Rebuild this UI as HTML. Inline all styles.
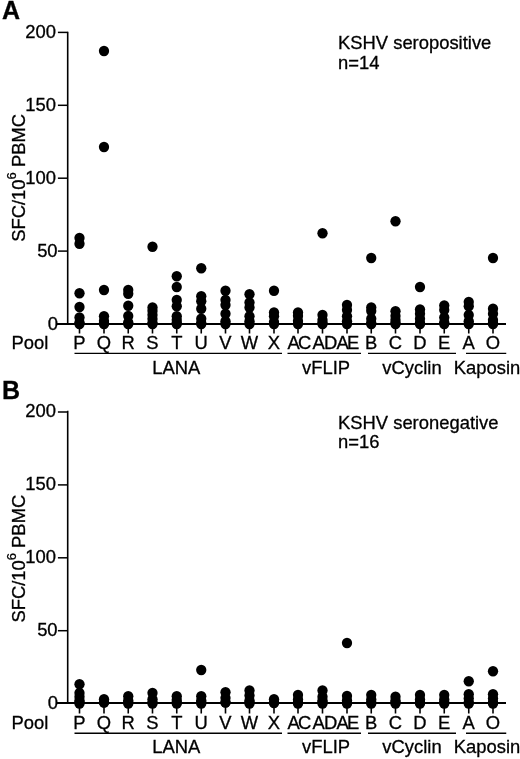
<!DOCTYPE html>
<html><head><meta charset="utf-8"><title>Figure</title>
<style>
html,body{margin:0;padding:0;background:#fff;}
svg{display:block;will-change:transform;}
text{font-family:"Liberation Sans",sans-serif;fill:#000;stroke:#000;stroke-width:0.3px;}
</style></head>
<body>
<svg width="520" height="759" viewBox="0 0 520 759">
<rect width="520" height="759" fill="#fff"/>
<text x="2.1" y="19" font-size="25" font-weight="bold">A</text>
<line x1="67.7" y1="31.65" x2="67.7" y2="324.0" stroke="#000" stroke-width="1.6"/>
<line x1="57" y1="324.0" x2="506" y2="324.0" stroke="#000" stroke-width="1.8"/>
<line x1="57.9" y1="32.4" x2="67.7" y2="32.4" stroke="#000" stroke-width="1.5"/>
<text x="56.0" y="38.1" font-size="18.4" text-anchor="end">200</text>
<line x1="57.9" y1="105.3" x2="67.7" y2="105.3" stroke="#000" stroke-width="1.5"/>
<text x="56.0" y="111" font-size="18.4" text-anchor="end">150</text>
<line x1="57.9" y1="178.2" x2="67.7" y2="178.2" stroke="#000" stroke-width="1.5"/>
<text x="56.0" y="183.9" font-size="18.4" text-anchor="end">100</text>
<line x1="57.9" y1="251.1" x2="67.7" y2="251.1" stroke="#000" stroke-width="1.5"/>
<text x="57.6" y="256.8" font-size="18.4" text-anchor="end">50</text>
<text x="58.0" y="329.7" font-size="18.4" text-anchor="end">0</text>
<text transform="translate(24.9,241.8) rotate(-90)" font-size="18.4">SFC/10<tspan dy="-9.2" font-size="13">6</tspan><tspan dy="9.2"> PBMC</tspan></text>
<text x="338" y="48.8" font-size="18.4">KSHV seropositive</text>
<text x="338" y="68.6" font-size="18.4">n=14</text>
<text x="11.5" y="349.2" font-size="18.4">Pool</text>
<line x1="79.5" y1="324.0" x2="79.5" y2="333.5" stroke="#000" stroke-width="1.6"/>
<text x="79.5" y="349.2" font-size="18.4" text-anchor="middle">P</text>
<circle cx="79.5" cy="324.0" r="5.15"/>
<circle cx="79.5" cy="238" r="5.15"/>
<circle cx="79.5" cy="243.75" r="5.15"/>
<circle cx="79.5" cy="293.25" r="5.15"/>
<circle cx="79.5" cy="307" r="5.15"/>
<circle cx="79.5" cy="317.5" r="5.15"/>
<circle cx="79.5" cy="322.5" r="5.15"/>
<line x1="104" y1="324.0" x2="104" y2="333.5" stroke="#000" stroke-width="1.6"/>
<text x="104" y="349.2" font-size="18.4" text-anchor="middle">Q</text>
<circle cx="104" cy="324.0" r="5.15"/>
<circle cx="104" cy="51" r="5.15"/>
<circle cx="104" cy="147" r="5.15"/>
<circle cx="104" cy="290" r="5.15"/>
<circle cx="104" cy="316.25" r="5.15"/>
<circle cx="104" cy="321" r="5.15"/>
<circle cx="104" cy="323" r="5.15"/>
<line x1="128.25" y1="324.0" x2="128.25" y2="333.5" stroke="#000" stroke-width="1.6"/>
<text x="128.25" y="349.2" font-size="18.4" text-anchor="middle">R</text>
<circle cx="128.25" cy="324.0" r="5.15"/>
<circle cx="128.25" cy="290" r="5.15"/>
<circle cx="128.25" cy="293.75" r="5.15"/>
<circle cx="128.25" cy="305.75" r="5.15"/>
<circle cx="128.25" cy="316" r="5.15"/>
<circle cx="128.25" cy="322.5" r="5.15"/>
<line x1="152.5" y1="324.0" x2="152.5" y2="333.5" stroke="#000" stroke-width="1.6"/>
<text x="152.5" y="349.2" font-size="18.4" text-anchor="middle">S</text>
<circle cx="152.5" cy="324.0" r="5.15"/>
<circle cx="152.5" cy="246.75" r="5.15"/>
<circle cx="152.5" cy="307.5" r="5.15"/>
<circle cx="152.5" cy="311" r="5.15"/>
<circle cx="152.5" cy="315" r="5.15"/>
<circle cx="152.5" cy="319" r="5.15"/>
<circle cx="152.5" cy="323" r="5.15"/>
<line x1="176.75" y1="324.0" x2="176.75" y2="333.5" stroke="#000" stroke-width="1.6"/>
<text x="176.75" y="349.2" font-size="18.4" text-anchor="middle">T</text>
<circle cx="176.75" cy="324.0" r="5.15"/>
<circle cx="176.75" cy="276.25" r="5.15"/>
<circle cx="176.75" cy="287" r="5.15"/>
<circle cx="176.75" cy="300" r="5.15"/>
<circle cx="176.75" cy="306.25" r="5.15"/>
<circle cx="176.75" cy="316.25" r="5.15"/>
<circle cx="176.75" cy="320" r="5.15"/>
<circle cx="176.75" cy="323" r="5.15"/>
<line x1="201.25" y1="324.0" x2="201.25" y2="333.5" stroke="#000" stroke-width="1.6"/>
<text x="201.25" y="349.2" font-size="18.4" text-anchor="middle">U</text>
<circle cx="201.25" cy="324.0" r="5.15"/>
<circle cx="201.25" cy="268.25" r="5.15"/>
<circle cx="201.25" cy="296.25" r="5.15"/>
<circle cx="201.25" cy="301.25" r="5.15"/>
<circle cx="201.25" cy="308.75" r="5.15"/>
<circle cx="201.25" cy="318.75" r="5.15"/>
<circle cx="201.25" cy="323" r="5.15"/>
<line x1="225.5" y1="324.0" x2="225.5" y2="333.5" stroke="#000" stroke-width="1.6"/>
<text x="225.5" y="349.2" font-size="18.4" text-anchor="middle">V</text>
<circle cx="225.5" cy="324.0" r="5.15"/>
<circle cx="225.5" cy="290.75" r="5.15"/>
<circle cx="225.5" cy="300" r="5.15"/>
<circle cx="225.5" cy="305" r="5.15"/>
<circle cx="225.5" cy="313.75" r="5.15"/>
<circle cx="225.5" cy="321.25" r="5.15"/>
<line x1="249.5" y1="324.0" x2="249.5" y2="333.5" stroke="#000" stroke-width="1.6"/>
<text x="249.5" y="349.2" font-size="18.4" text-anchor="middle">W</text>
<circle cx="249.5" cy="324.0" r="5.15"/>
<circle cx="249.5" cy="294.25" r="5.15"/>
<circle cx="249.5" cy="302.5" r="5.15"/>
<circle cx="249.5" cy="307.5" r="5.15"/>
<circle cx="249.5" cy="316.25" r="5.15"/>
<circle cx="249.5" cy="321.25" r="5.15"/>
<line x1="274" y1="324.0" x2="274" y2="333.5" stroke="#000" stroke-width="1.6"/>
<text x="274" y="349.2" font-size="18.4" text-anchor="middle">X</text>
<circle cx="274" cy="324.0" r="5.15"/>
<circle cx="274" cy="290.75" r="5.15"/>
<circle cx="274" cy="312.5" r="5.15"/>
<circle cx="274" cy="316.25" r="5.15"/>
<circle cx="274" cy="322" r="5.15"/>
<line x1="298" y1="324.0" x2="298" y2="333.5" stroke="#000" stroke-width="1.6"/>
<text x="287.5 298.1" y="349.2" font-size="18.4">AC</text>
<circle cx="298" cy="324.0" r="5.15"/>
<circle cx="298" cy="312.5" r="5.15"/>
<circle cx="298" cy="316" r="5.15"/>
<circle cx="298" cy="321" r="5.15"/>
<line x1="322.5" y1="324.0" x2="322.5" y2="333.5" stroke="#000" stroke-width="1.6"/>
<text x="312.5 324.0" y="349.2" font-size="18.4">AD</text>
<circle cx="322.5" cy="324.0" r="5.15"/>
<circle cx="322.5" cy="233.25" r="5.15"/>
<circle cx="322.5" cy="315" r="5.15"/>
<circle cx="322.5" cy="320" r="5.15"/>
<circle cx="322.5" cy="323" r="5.15"/>
<line x1="347" y1="324.0" x2="347" y2="333.5" stroke="#000" stroke-width="1.6"/>
<text x="336.5 347.0" y="349.2" font-size="18.4">AE</text>
<circle cx="347" cy="324.0" r="5.15"/>
<circle cx="347" cy="305" r="5.15"/>
<circle cx="347" cy="310" r="5.15"/>
<circle cx="347" cy="316.25" r="5.15"/>
<circle cx="347" cy="321.25" r="5.15"/>
<line x1="371.25" y1="324.0" x2="371.25" y2="333.5" stroke="#000" stroke-width="1.6"/>
<text x="371.25" y="349.2" font-size="18.4" text-anchor="middle">B</text>
<circle cx="371.25" cy="324.0" r="5.15"/>
<circle cx="371.25" cy="258" r="5.15"/>
<circle cx="371.25" cy="307.5" r="5.15"/>
<circle cx="371.25" cy="311" r="5.15"/>
<circle cx="371.25" cy="318.75" r="5.15"/>
<circle cx="371.25" cy="323" r="5.15"/>
<line x1="395.5" y1="324.0" x2="395.5" y2="333.5" stroke="#000" stroke-width="1.6"/>
<text x="395.5" y="349.2" font-size="18.4" text-anchor="middle">C</text>
<circle cx="395.5" cy="324.0" r="5.15"/>
<circle cx="395.5" cy="221.25" r="5.15"/>
<circle cx="395.5" cy="311.25" r="5.15"/>
<circle cx="395.5" cy="316" r="5.15"/>
<circle cx="395.5" cy="320" r="5.15"/>
<circle cx="395.5" cy="323" r="5.15"/>
<line x1="420" y1="324.0" x2="420" y2="333.5" stroke="#000" stroke-width="1.6"/>
<text x="420" y="349.2" font-size="18.4" text-anchor="middle">D</text>
<circle cx="420" cy="324.0" r="5.15"/>
<circle cx="420" cy="287" r="5.15"/>
<circle cx="420" cy="309.5" r="5.15"/>
<circle cx="420" cy="313.75" r="5.15"/>
<circle cx="420" cy="318.75" r="5.15"/>
<circle cx="420" cy="323" r="5.15"/>
<line x1="444.25" y1="324.0" x2="444.25" y2="333.5" stroke="#000" stroke-width="1.6"/>
<text x="444.25" y="349.2" font-size="18.4" text-anchor="middle">E</text>
<circle cx="444.25" cy="324.0" r="5.15"/>
<circle cx="444.25" cy="305.5" r="5.15"/>
<circle cx="444.25" cy="310" r="5.15"/>
<circle cx="444.25" cy="317.5" r="5.15"/>
<circle cx="444.25" cy="322.5" r="5.15"/>
<line x1="468.75" y1="324.0" x2="468.75" y2="333.5" stroke="#000" stroke-width="1.6"/>
<text x="468.75" y="349.2" font-size="18.4" text-anchor="middle">A</text>
<circle cx="468.75" cy="324.0" r="5.15"/>
<circle cx="468.75" cy="302" r="5.15"/>
<circle cx="468.75" cy="306.25" r="5.15"/>
<circle cx="468.75" cy="315" r="5.15"/>
<circle cx="468.75" cy="321.25" r="5.15"/>
<line x1="493" y1="324.0" x2="493" y2="333.5" stroke="#000" stroke-width="1.6"/>
<text x="493" y="349.2" font-size="18.4" text-anchor="middle">O</text>
<circle cx="493" cy="324.0" r="5.15"/>
<circle cx="493" cy="258" r="5.15"/>
<circle cx="493" cy="308.75" r="5.15"/>
<circle cx="493" cy="313.75" r="5.15"/>
<circle cx="493" cy="320" r="5.15"/>
<circle cx="493" cy="323" r="5.15"/>
<line x1="74.5" y1="353.4" x2="282" y2="353.4" stroke="#000" stroke-width="1.35"/>
<text x="176.3" y="373.6" font-size="18.4" text-anchor="middle">LANA</text>
<line x1="287.5" y1="353.4" x2="361" y2="353.4" stroke="#000" stroke-width="1.35"/>
<text x="326" y="373.6" font-size="18.4" text-anchor="middle">vFLIP</text>
<line x1="368" y1="353.4" x2="456" y2="353.4" stroke="#000" stroke-width="1.35"/>
<text x="412" y="373.6" font-size="18.4" text-anchor="middle">vCyclin</text>
<line x1="466" y1="353.4" x2="506.25" y2="353.4" stroke="#000" stroke-width="1.35"/>
<text x="487" y="373.6" font-size="18.4" text-anchor="middle">Kaposin</text>
<text x="2.1" y="398.8" font-size="25" font-weight="bold">B</text>
<line x1="67.7" y1="410.65" x2="67.7" y2="703.0" stroke="#000" stroke-width="1.6"/>
<line x1="57" y1="703.0" x2="506" y2="703.0" stroke="#000" stroke-width="1.8"/>
<line x1="57.9" y1="412.0" x2="67.7" y2="412.0" stroke="#000" stroke-width="1.5"/>
<text x="56.0" y="417.1" font-size="18.4" text-anchor="end">200</text>
<line x1="57.9" y1="484.9" x2="67.7" y2="484.9" stroke="#000" stroke-width="1.5"/>
<text x="56.0" y="490" font-size="18.4" text-anchor="end">150</text>
<line x1="57.9" y1="557.8" x2="67.7" y2="557.8" stroke="#000" stroke-width="1.5"/>
<text x="56.0" y="562.9" font-size="18.4" text-anchor="end">100</text>
<line x1="57.9" y1="630.7" x2="67.7" y2="630.7" stroke="#000" stroke-width="1.5"/>
<text x="57.6" y="635.8" font-size="18.4" text-anchor="end">50</text>
<text x="58.0" y="708.7" font-size="18.4" text-anchor="end">0</text>
<text transform="translate(24.9,622.6) rotate(-90)" font-size="18.4">SFC/10<tspan dy="-9.2" font-size="13">6</tspan><tspan dy="9.2"> PBMC</tspan></text>
<text x="338" y="428.6" font-size="18.4">KSHV seronegative</text>
<text x="338" y="448.4" font-size="18.4">n=16</text>
<text x="11.5" y="729.0" font-size="18.4">Pool</text>
<line x1="79.5" y1="703.0" x2="79.5" y2="713.5" stroke="#000" stroke-width="1.6"/>
<text x="79.5" y="729.0" font-size="18.4" text-anchor="middle">P</text>
<circle cx="79.5" cy="702.3" r="5.15"/>
<circle cx="79.5" cy="684.25" r="5.15"/>
<circle cx="79.5" cy="693.0" r="5.15"/>
<circle cx="79.5" cy="696.75" r="5.15"/>
<circle cx="79.5" cy="700.5" r="5.15"/>
<circle cx="79.5" cy="703.5" r="5.15"/>
<line x1="104" y1="703.0" x2="104" y2="713.5" stroke="#000" stroke-width="1.6"/>
<text x="104" y="729.0" font-size="18.4" text-anchor="middle">Q</text>
<circle cx="104" cy="702.3" r="5.15"/>
<circle cx="104" cy="699.25" r="5.15"/>
<circle cx="104" cy="702.5" r="5.15"/>
<line x1="128.25" y1="703.0" x2="128.25" y2="713.5" stroke="#000" stroke-width="1.6"/>
<text x="128.25" y="729.0" font-size="18.4" text-anchor="middle">R</text>
<circle cx="128.25" cy="702.3" r="5.15"/>
<circle cx="128.25" cy="696.25" r="5.15"/>
<circle cx="128.25" cy="700.5" r="5.15"/>
<circle cx="128.25" cy="703.5" r="5.15"/>
<line x1="152.5" y1="703.0" x2="152.5" y2="713.5" stroke="#000" stroke-width="1.6"/>
<text x="152.5" y="729.0" font-size="18.4" text-anchor="middle">S</text>
<circle cx="152.5" cy="702.3" r="5.15"/>
<circle cx="152.5" cy="693.0" r="5.15"/>
<circle cx="152.5" cy="699.25" r="5.15"/>
<circle cx="152.5" cy="703.5" r="5.15"/>
<line x1="176.75" y1="703.0" x2="176.75" y2="713.5" stroke="#000" stroke-width="1.6"/>
<text x="176.75" y="729.0" font-size="18.4" text-anchor="middle">T</text>
<circle cx="176.75" cy="702.3" r="5.15"/>
<circle cx="176.75" cy="696.25" r="5.15"/>
<circle cx="176.75" cy="700.0" r="5.15"/>
<circle cx="176.75" cy="703.5" r="5.15"/>
<line x1="201.25" y1="703.0" x2="201.25" y2="713.5" stroke="#000" stroke-width="1.6"/>
<text x="201.25" y="729.0" font-size="18.4" text-anchor="middle">U</text>
<circle cx="201.25" cy="702.3" r="5.15"/>
<circle cx="201.25" cy="670.0" r="5.15"/>
<circle cx="201.25" cy="696.25" r="5.15"/>
<circle cx="201.25" cy="700.5" r="5.15"/>
<circle cx="201.25" cy="703.5" r="5.15"/>
<line x1="225.5" y1="703.0" x2="225.5" y2="713.5" stroke="#000" stroke-width="1.6"/>
<text x="225.5" y="729.0" font-size="18.4" text-anchor="middle">V</text>
<circle cx="225.5" cy="702.3" r="5.15"/>
<circle cx="225.5" cy="692.25" r="5.15"/>
<circle cx="225.5" cy="698.0" r="5.15"/>
<circle cx="225.5" cy="702.5" r="5.15"/>
<line x1="249.5" y1="703.0" x2="249.5" y2="713.5" stroke="#000" stroke-width="1.6"/>
<text x="249.5" y="729.0" font-size="18.4" text-anchor="middle">W</text>
<circle cx="249.5" cy="702.3" r="5.15"/>
<circle cx="249.5" cy="690.5" r="5.15"/>
<circle cx="249.5" cy="695.5" r="5.15"/>
<circle cx="249.5" cy="700.5" r="5.15"/>
<circle cx="249.5" cy="703.5" r="5.15"/>
<line x1="274" y1="703.0" x2="274" y2="713.5" stroke="#000" stroke-width="1.6"/>
<text x="274" y="729.0" font-size="18.4" text-anchor="middle">X</text>
<circle cx="274" cy="702.3" r="5.15"/>
<circle cx="274" cy="699.25" r="5.15"/>
<circle cx="274" cy="703.0" r="5.15"/>
<line x1="298" y1="703.0" x2="298" y2="713.5" stroke="#000" stroke-width="1.6"/>
<text x="287.5 298.1" y="729.0" font-size="18.4">AC</text>
<circle cx="298" cy="702.3" r="5.15"/>
<circle cx="298" cy="695.0" r="5.15"/>
<circle cx="298" cy="699.5" r="5.15"/>
<circle cx="298" cy="703.5" r="5.15"/>
<line x1="322.5" y1="703.0" x2="322.5" y2="713.5" stroke="#000" stroke-width="1.6"/>
<text x="312.5 324.0" y="729.0" font-size="18.4">AD</text>
<circle cx="322.5" cy="702.3" r="5.15"/>
<circle cx="322.5" cy="690.5" r="5.15"/>
<circle cx="322.5" cy="696.75" r="5.15"/>
<circle cx="322.5" cy="700.5" r="5.15"/>
<circle cx="322.5" cy="703.5" r="5.15"/>
<line x1="347" y1="703.0" x2="347" y2="713.5" stroke="#000" stroke-width="1.6"/>
<text x="336.5 347.0" y="729.0" font-size="18.4">AE</text>
<circle cx="347" cy="702.3" r="5.15"/>
<circle cx="347" cy="643.0" r="5.15"/>
<circle cx="347" cy="696.0" r="5.15"/>
<circle cx="347" cy="700.5" r="5.15"/>
<circle cx="347" cy="703.5" r="5.15"/>
<line x1="371.25" y1="703.0" x2="371.25" y2="713.5" stroke="#000" stroke-width="1.6"/>
<text x="371.25" y="729.0" font-size="18.4" text-anchor="middle">B</text>
<circle cx="371.25" cy="702.3" r="5.15"/>
<circle cx="371.25" cy="695.0" r="5.15"/>
<circle cx="371.25" cy="699.5" r="5.15"/>
<circle cx="371.25" cy="703.5" r="5.15"/>
<line x1="395.5" y1="703.0" x2="395.5" y2="713.5" stroke="#000" stroke-width="1.6"/>
<text x="395.5" y="729.0" font-size="18.4" text-anchor="middle">C</text>
<circle cx="395.5" cy="702.3" r="5.15"/>
<circle cx="395.5" cy="696.75" r="5.15"/>
<circle cx="395.5" cy="700.5" r="5.15"/>
<circle cx="395.5" cy="703.5" r="5.15"/>
<line x1="420" y1="703.0" x2="420" y2="713.5" stroke="#000" stroke-width="1.6"/>
<text x="420" y="729.0" font-size="18.4" text-anchor="middle">D</text>
<circle cx="420" cy="702.3" r="5.15"/>
<circle cx="420" cy="695.0" r="5.15"/>
<circle cx="420" cy="699.5" r="5.15"/>
<circle cx="420" cy="703.5" r="5.15"/>
<line x1="444.25" y1="703.0" x2="444.25" y2="713.5" stroke="#000" stroke-width="1.6"/>
<text x="444.25" y="729.0" font-size="18.4" text-anchor="middle">E</text>
<circle cx="444.25" cy="702.3" r="5.15"/>
<circle cx="444.25" cy="695.0" r="5.15"/>
<circle cx="444.25" cy="699.5" r="5.15"/>
<circle cx="444.25" cy="703.5" r="5.15"/>
<line x1="468.75" y1="703.0" x2="468.75" y2="713.5" stroke="#000" stroke-width="1.6"/>
<text x="468.75" y="729.0" font-size="18.4" text-anchor="middle">A</text>
<circle cx="468.75" cy="702.3" r="5.15"/>
<circle cx="468.75" cy="681.25" r="5.15"/>
<circle cx="468.75" cy="694.25" r="5.15"/>
<circle cx="468.75" cy="698.5" r="5.15"/>
<circle cx="468.75" cy="703.5" r="5.15"/>
<line x1="493" y1="703.0" x2="493" y2="713.5" stroke="#000" stroke-width="1.6"/>
<text x="493" y="729.0" font-size="18.4" text-anchor="middle">O</text>
<circle cx="493" cy="702.3" r="5.15"/>
<circle cx="493" cy="671.25" r="5.15"/>
<circle cx="493" cy="694.25" r="5.15"/>
<circle cx="493" cy="698.5" r="5.15"/>
<circle cx="493" cy="703.5" r="5.15"/>
<line x1="74.5" y1="733.2" x2="282" y2="733.2" stroke="#000" stroke-width="1.35"/>
<text x="176.3" y="753.4" font-size="18.4" text-anchor="middle">LANA</text>
<line x1="287.5" y1="733.2" x2="361" y2="733.2" stroke="#000" stroke-width="1.35"/>
<text x="326" y="753.4" font-size="18.4" text-anchor="middle">vFLIP</text>
<line x1="368" y1="733.2" x2="456" y2="733.2" stroke="#000" stroke-width="1.35"/>
<text x="412" y="753.4" font-size="18.4" text-anchor="middle">vCyclin</text>
<line x1="466" y1="733.2" x2="506.25" y2="733.2" stroke="#000" stroke-width="1.35"/>
<text x="487" y="753.4" font-size="18.4" text-anchor="middle">Kaposin</text>
</svg>
</body></html>
